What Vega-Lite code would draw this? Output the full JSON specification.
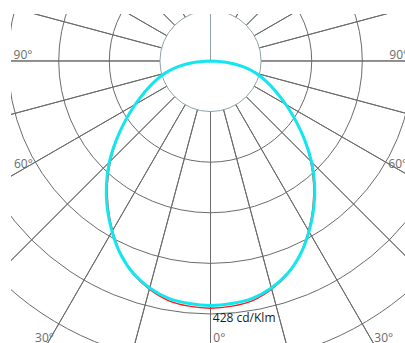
{
  "$schema": "https://vega.github.io/schema/vega-lite/v6.json",
  "width": 394,
  "height": 329,
  "padding": {"left": 11, "top": 14, "right": 0, "bottom": 0},
  "autosize": {"type": "none"},
  "background": "white",
  "config": {"view": {"stroke": null}},
  "datasets": {
    "rings": [{"r": 175.14}, {"r": 262.71}, {"r": 350.28}, {"r": 437.85}, {"r": 525.42}, {"r": 612.99}],
    "spokes": [{"deg": 0}, {"deg": 15}, {"deg": 30}, {"deg": 45}, {"deg": 60}, {"deg": 75}, {"deg": 90}, {"deg": 105}, {"deg": 120}, {"deg": 135}, {"deg": 150}, {"deg": 165}, {"deg": 180}, {"deg": 195}, {"deg": 210}, {"deg": 225}, {"deg": 240}, {"deg": 255}, {"deg": 270}, {"deg": 285}, {"deg": 300}, {"deg": 315}, {"deg": 330}, {"deg": 345}],
    "curve": [
      {"plane": "C0-C180", "a": -90, "x": 0, "y": 0},
      {"plane": "C0-C180", "a": -85, "x": -29.39, "y": -2.57},
      {"plane": "C0-C180", "a": -80, "x": -57.12, "y": -10.07},
      {"plane": "C0-C180", "a": -75, "x": -79.69, "y": -21.35},
      {"plane": "C0-C180", "a": -70, "x": -97.73, "y": -35.57},
      {"plane": "C0-C180", "a": -65, "x": -114.65, "y": -53.46},
      {"plane": "C0-C180", "a": -60, "x": -131.2, "y": -75.75},
      {"plane": "C0-C180", "a": -55, "x": -147.04, "y": -102.96},
      {"plane": "C0-C180", "a": -50, "x": -162.02, "y": -135.95},
      {"plane": "C0-C180", "a": -45, "x": -173.24, "y": -173.24},
      {"plane": "C0-C180", "a": -40, "x": -178.37, "y": -212.6},
      {"plane": "C0-C180", "a": -35, "x": -177.24, "y": -253.1},
      {"plane": "C0-C180", "a": -30, "x": -169.5, "y": -293.6},
      {"plane": "C0-C180", "a": -25, "x": -155.52, "y": -333.5},
      {"plane": "C0-C180", "a": -20, "x": -134.07, "y": -368.4},
      {"plane": "C0-C180", "a": -15, "x": -105.86, "y": -395.1},
      {"plane": "C0-C180", "a": -10, "x": -73.11, "y": -414.6},
      {"plane": "C0-C180", "a": -5, "x": -37.13, "y": -424.4},
      {"plane": "C0-C180", "a": 0, "x": 0, "y": -428},
      {"plane": "C0-C180", "a": 5, "x": 37.13, "y": -424.4},
      {"plane": "C0-C180", "a": 10, "x": 73.11, "y": -414.6},
      {"plane": "C0-C180", "a": 15, "x": 105.86, "y": -395.1},
      {"plane": "C0-C180", "a": 20, "x": 134.07, "y": -368.4},
      {"plane": "C0-C180", "a": 25, "x": 155.52, "y": -333.5},
      {"plane": "C0-C180", "a": 30, "x": 169.5, "y": -293.6},
      {"plane": "C0-C180", "a": 35, "x": 177.24, "y": -253.1},
      {"plane": "C0-C180", "a": 40, "x": 178.37, "y": -212.6},
      {"plane": "C0-C180", "a": 45, "x": 173.24, "y": -173.24},
      {"plane": "C0-C180", "a": 50, "x": 162.02, "y": -135.95},
      {"plane": "C0-C180", "a": 55, "x": 147.04, "y": -102.96},
      {"plane": "C0-C180", "a": 60, "x": 131.2, "y": -75.75},
      {"plane": "C0-C180", "a": 65, "x": 114.65, "y": -53.46},
      {"plane": "C0-C180", "a": 70, "x": 97.73, "y": -35.57},
      {"plane": "C0-C180", "a": 75, "x": 79.69, "y": -21.35},
      {"plane": "C0-C180", "a": 80, "x": 57.12, "y": -10.07},
      {"plane": "C0-C180", "a": 85, "x": 29.39, "y": -2.57},
      {"plane": "C0-C180", "a": 90, "x": 0, "y": 0},
      {"plane": "C90-C270", "a": -90, "x": 0, "y": 0},
      {"plane": "C90-C270", "a": -85, "x": -29.29, "y": -2.56},
      {"plane": "C90-C270", "a": -80, "x": -56.23, "y": -9.92},
      {"plane": "C90-C270", "a": -75, "x": -78.53, "y": -21.04},
      {"plane": "C90-C270", "a": -70, "x": -95.94, "y": -34.92},
      {"plane": "C90-C270", "a": -65, "x": -112.93, "y": -52.66},
      {"plane": "C90-C270", "a": -60, "x": -130.42, "y": -75.3},
      {"plane": "C90-C270", "a": -55, "x": -147.45, "y": -103.24},
      {"plane": "C90-C270", "a": -50, "x": -163.09, "y": -136.85},
      {"plane": "C90-C270", "a": -45, "x": -175.01, "y": -175.01},
      {"plane": "C90-C270", "a": -40, "x": -180.24, "y": -214.8},
      {"plane": "C90-C270", "a": -35, "x": -178.67, "y": -255.2},
      {"plane": "C90-C270", "a": -30, "x": -170.45, "y": -295.2},
      {"plane": "C90-C270", "a": -25, "x": -155.78, "y": -334.1},
      {"plane": "C90-C270", "a": -20, "x": -133.77, "y": -367.5},
      {"plane": "C90-C270", "a": -15, "x": -105.26, "y": -392.8},
      {"plane": "C90-C270", "a": -10, "x": -72.43, "y": -410.8},
      {"plane": "C90-C270", "a": -5, "x": -36.73, "y": -419.8},
      {"plane": "C90-C270", "a": 0, "x": 0, "y": -423.2},
      {"plane": "C90-C270", "a": 5, "x": 36.73, "y": -419.8},
      {"plane": "C90-C270", "a": 10, "x": 72.43, "y": -410.8},
      {"plane": "C90-C270", "a": 15, "x": 105.26, "y": -392.8},
      {"plane": "C90-C270", "a": 20, "x": 133.77, "y": -367.5},
      {"plane": "C90-C270", "a": 25, "x": 155.78, "y": -334.1},
      {"plane": "C90-C270", "a": 30, "x": 170.45, "y": -295.2},
      {"plane": "C90-C270", "a": 35, "x": 178.67, "y": -255.2},
      {"plane": "C90-C270", "a": 40, "x": 180.24, "y": -214.8},
      {"plane": "C90-C270", "a": 45, "x": 175.01, "y": -175.01},
      {"plane": "C90-C270", "a": 50, "x": 163.09, "y": -136.85},
      {"plane": "C90-C270", "a": 55, "x": 147.45, "y": -103.24},
      {"plane": "C90-C270", "a": 60, "x": 130.42, "y": -75.3},
      {"plane": "C90-C270", "a": 65, "x": 112.93, "y": -52.66},
      {"plane": "C90-C270", "a": 70, "x": 95.94, "y": -34.92},
      {"plane": "C90-C270", "a": 75, "x": 78.53, "y": -21.04},
      {"plane": "C90-C270", "a": 80, "x": 56.23, "y": -9.92},
      {"plane": "C90-C270", "a": 85, "x": 29.29, "y": -2.56},
      {"plane": "C90-C270", "a": 90, "x": 0, "y": 0}
    ],
    "angleLabels": [
      {"t": "90°", "x": -340.9, "y": 2.6},
      {"t": "90°", "x": 309.4, "y": 2.6},
      {"t": "60°", "x": -340.1, "y": -185.2},
      {"t": "60°", "x": 307.7, "y": -185.2},
      {"t": "30°", "x": -303.7, "y": -487.2},
      {"t": "30°", "x": 283.5, "y": -487.2},
      {"t": "0°", "x": 4.8, "y": -487.2}
    ],
    "maxLabel": [{"t": "428 cd/Klm", "x": 4.0, "y": -452.6}]
  },
  "layer": [
    {
      "data": {"name": "rings"},
      "mark": {"type": "arc", "theta": 0, "theta2": 6.283185, "filled": false, "stroke": "#6b6b6b", "strokeWidth": 1, "clip": true},
      "encoding": {
        "x": {"datum": 0, "type": "quantitative", "scale": {"domain": [-345.3, 336.6], "nice": false, "zero": false}, "axis": null},
        "y": {"datum": 0, "type": "quantitative", "scale": {"domain": [-488.1, 81.3], "nice": false, "zero": false}, "axis": null},
        "radius": {"field": "r", "type": "quantitative", "stack": null, "scale": {"type": "linear", "domain": [0, 1000], "range": [0, 577.8], "zero": true, "nice": false}, "legend": null}
      }
    },
    {
      "data": {"name": "spokes"},
      "mark": {"type": "arc", "filled": false, "stroke": "#6b6b6b", "strokeWidth": 1, "clip": true},
      "encoding": {
        "x": {"datum": 0, "type": "quantitative"},
        "y": {"datum": 0, "type": "quantitative"},
        "theta": {"field": "deg", "type": "quantitative", "stack": null, "scale": {"type": "linear", "domain": [0, 360], "range": [0, 6.283185], "nice": false}},
        "theta2": {"field": "deg"},
        "radius": {"datum": 1000, "type": "quantitative", "stack": null},
        "radius2": {"datum": 87.57}
      }
    },
    {
      "data": {"values": [{"r": 87.57}]},
      "mark": {"type": "arc", "theta": 0, "theta2": 6.283185, "filled": false, "stroke": "#8fa3a7", "strokeWidth": 1, "clip": true},
      "encoding": {
        "x": {"datum": 0, "type": "quantitative"},
        "y": {"datum": 0, "type": "quantitative"},
        "radius": {"field": "r", "type": "quantitative", "stack": null}
      }
    },
    {
      "data": {"name": "curve"},
      "transform": [{"filter": "datum.plane == 'C0-C180'"}],
      "mark": {"type": "line", "interpolate": "catmull-rom", "stroke": "#ff1a1a", "strokeWidth": 1.3, "clip": true},
      "encoding": {
        "x": {"field": "x", "type": "quantitative"},
        "y": {"field": "y", "type": "quantitative"},
        "order": {"field": "a", "type": "quantitative"}
      }
    },
    {
      "data": {"name": "curve"},
      "transform": [{"filter": "datum.plane == 'C90-C270'"}],
      "mark": {"type": "line", "interpolate": "catmull-rom", "stroke": "#12e6ee", "strokeWidth": 3, "clip": true},
      "encoding": {
        "x": {"field": "x", "type": "quantitative"},
        "y": {"field": "y", "type": "quantitative"},
        "order": {"field": "a", "type": "quantitative"}
      }
    },
    {
      "data": {"name": "angleLabels"},
      "mark": {"type": "text", "align": "left", "baseline": "alphabetic", "font": "Open Sans", "fontSize": 12, "fill": "#6b6b6b"},
      "encoding": {
        "x": {"field": "x", "type": "quantitative"},
        "y": {"field": "y", "type": "quantitative"},
        "text": {"field": "t"}
      }
    },
    {
      "data": {"name": "maxLabel"},
      "mark": {"type": "text", "align": "left", "baseline": "alphabetic", "font": "Open Sans", "fontSize": 12, "fill": "#1a1a1a"},
      "encoding": {
        "x": {"field": "x", "type": "quantitative"},
        "y": {"field": "y", "type": "quantitative"},
        "text": {"field": "t"}
      }
    }
  ]
}
